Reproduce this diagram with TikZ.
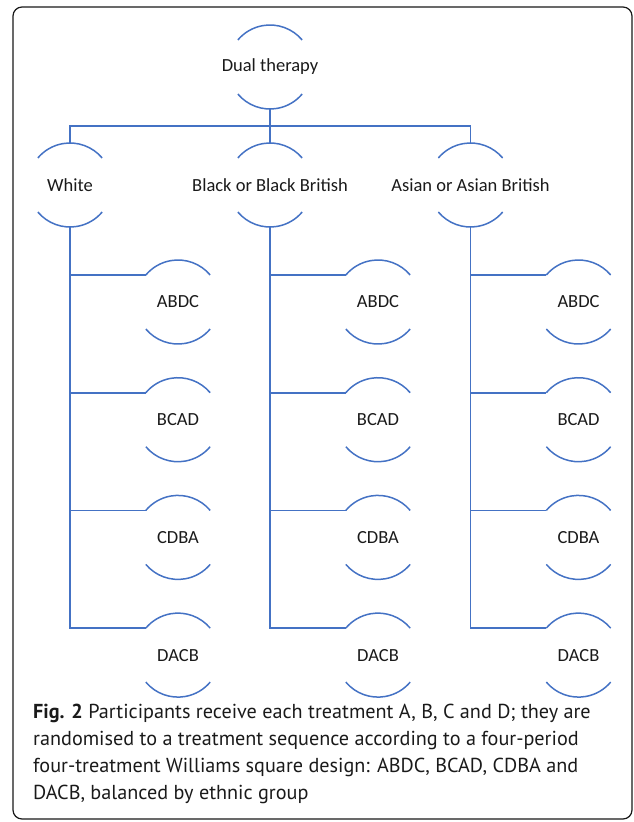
\documentclass[tikz,border=0pt]{standalone}
\usepackage{fontspec}
\setmainfont{Carlito}
\newfontfamily\capfont{PT Sans}
\definecolor{lineblue}{HTML}{4472C4}
\definecolor{txt}{HTML}{1A1A1A}
\begin{document}
\begin{tikzpicture}[x=1pt,y=1pt,
  cnode/.style={circle,minimum size=84pt,inner sep=0pt,outer sep=0pt,draw=none,
     label={[font=\fontsize{18.5}{20}\selectfont,text=txt,inner sep=0pt]center:#1}},
  conn/.style={draw=lineblue,line width=1.6pt},
  arcline/.style={draw=lineblue,line width=1.5pt},
  captext/.style={anchor=west,inner sep=0pt,text=txt,font=\capfont\fontsize{20.2}{22}\selectfont}]
\useasboundingbox (0,0) rectangle (634,-822);
\draw[line width=1.2pt,rounded corners=9pt,draw=black!90] (13,-7) rectangle (632,-819);
% nodes
\node[cnode={Dual therapy}] (root) at (270,-67) {};
\node[cnode={White}] (w) at (70,-185) {};
\node[cnode={Black or Black British}] (b) at (270,-185) {};
\node[cnode={Asian or Asian British}] (a) at (470.5,-185) {};
\foreach \c/\cx in {w/70,b/270,a/470.5}{
  \foreach \lab [count=\i from 0] in {ABDC,BCAD,CDBA,DACB}{
    \node[cnode=\lab] (\c\i) at ({\cx+108},{-302-117.7*\i}) {};
  }
}
% arcs
\foreach \n in {root,w,b,a,w0,w1,w2,w3,b0,b1,b2,b3,a0,a1,a2,a3}{
  \draw[arcline] (\n.40) arc[start angle=40,end angle=140,radius=42pt];
  \draw[arcline] (\n.220) arc[start angle=220,end angle=320,radius=42pt];
}
% connectors
\coordinate (hub) at (270,-126);
\draw[conn] (root.south) -- (hub);
\draw[conn] (hub) -| (w.north);
\draw[conn] (hub) -| (a.north);
\draw[conn] (hub) -- (b.north);
\foreach \c in {w,b,a}{
  \foreach \i in {0,1,2,3}{
    \draw[conn] (\c.south) |- (\c\i.140);
  }
}
% caption
\node[captext] (c1) at (33,-713) {\textbf{Fig. 2} Participants receive each treatment A, B, C and D; they are};
\node[captext] (c2) at (33,-740) {randomised to a treatment sequence according to a four-period};
\node[captext] (c3) at (33,-767) {four-treatment Williams square design: ABDC, BCAD, CDBA and};
\node[captext] (c4) at (33,-794) {DACB, balanced by ethnic group};
\end{tikzpicture}
\end{document}
